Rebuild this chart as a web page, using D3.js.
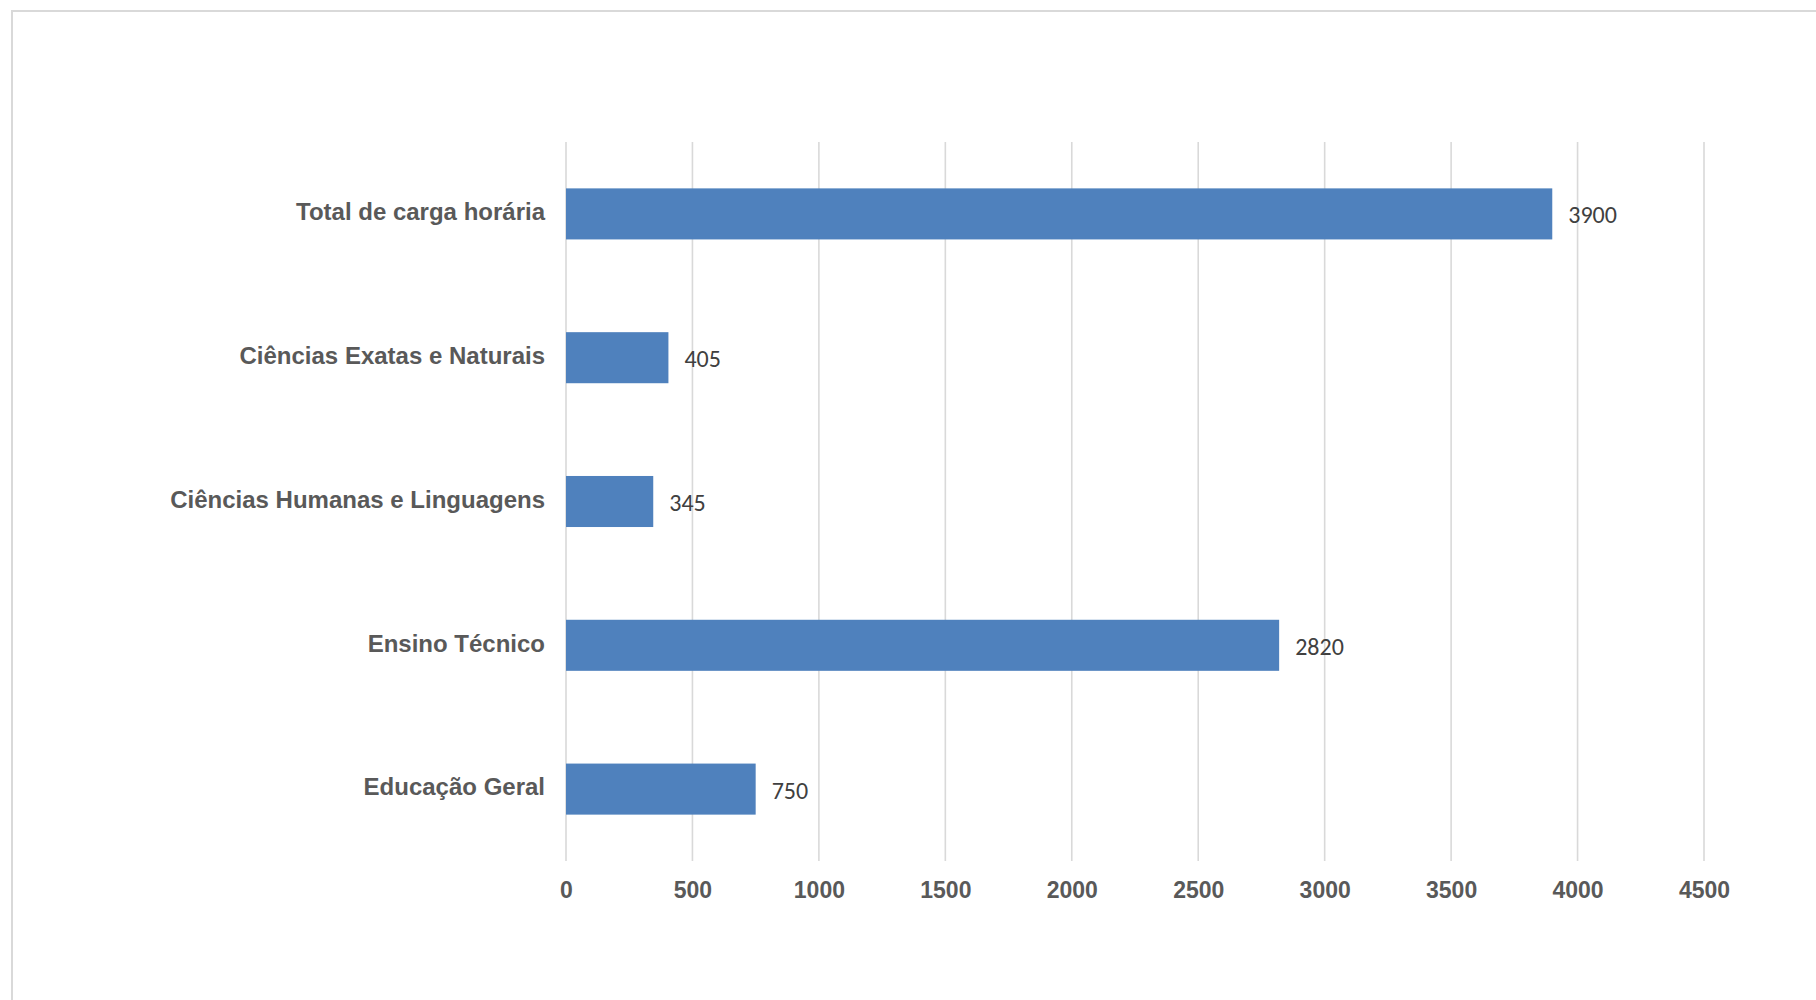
<!DOCTYPE html>
<html>
<head>
<meta charset="utf-8">
<script src="https://cdn.jsdelivr.net/npm/d3@7"></script>
<style>
  html, body { margin: 0; padding: 0; background: #ffffff; }
  svg { display: block; }
</style>
</head>
<body>
<div id="chart"></div>
<script>
// Carga horária por componente curricular
const categories = [
  "Total de carga horária",
  "Ciências Exatas e Naturais",
  "Ciências Humanas e Linguagens",
  "Ensino Técnico",
  "Educação Geral"
];
const hours = [3900, 405, 345, 2820, 750];
const tickValues = [0, 500, 1000, 1500, 2000, 2500, 3000, 3500, 4000, 4500];

const W = 1816, H = 1000;
const plot = { left: 566, right: 1704, top: 142, bottom: 861 };

const svg = d3.select("#chart").append("svg")
  .attr("width", W).attr("height", H);

svg.append("rect").attr("width", W).attr("height", H).attr("fill", "#ffffff");

// chart frame (runs off the right and bottom edges)
svg.append("rect")
  .attr("x", 12).attr("y", 11)
  .attr("width", W).attr("height", H)
  .attr("fill", "none").attr("stroke", "#d9d9d9").attr("stroke-width", 2);

const x = d3.scaleLinear().domain([0, 4500]).range([plot.left, plot.right]);
const y = d3.scaleBand().domain(categories).range([plot.top, plot.bottom]).paddingInner(0.645).paddingOuter(0.3225);

// vertical gridlines
svg.append("g").selectAll("line").data(tickValues).join("line")
  .attr("x1", d => x(d)).attr("x2", d => x(d))
  .attr("y1", plot.top).attr("y2", plot.bottom)
  .attr("stroke", "#d9d9d9").attr("stroke-width", 1.6);

// x axis labels
const xAxis = d3.axisBottom(x).tickValues(tickValues).tickSize(0).tickPadding(0).tickFormat(d3.format("d"));
const gx = svg.append("g").attr("transform", `translate(0,${plot.bottom})`).call(xAxis);
gx.select(".domain").remove();
gx.selectAll("text")
  .attr("y", 37).attr("dy", null)
  .attr("font-family", "'Liberation Sans', Arial, sans-serif")
  .attr("font-weight", "bold").attr("font-size", 23).attr("fill", "#595959");

// category labels
const yAxis = d3.axisLeft(y).tickSize(0).tickPadding(21);
const gy = svg.append("g").attr("transform", `translate(${plot.left},0)`).call(yAxis);
gy.select(".domain").remove();
gy.selectAll("text")
  .attr("dy", "0.26em")
  .attr("font-family", "'Liberation Sans', Arial, sans-serif")
  .attr("font-weight", "bold").attr("font-size", 24).attr("fill", "#595959");

const rows = categories.map((c, i) => ({ c, v: hours[i] }));

// bars
svg.append("g").selectAll("rect").data(rows).join("rect")
  .attr("x", x(0))
  .attr("y", d => y(d.c))
  .attr("width", d => x(d.v) - x(0))
  .attr("height", y.bandwidth())
  .attr("fill", "#4f81bd");

// value labels
svg.append("g").selectAll("text").data(rows).join("text")
  .attr("x", d => x(d.v) + 16)
  .attr("y", d => y(d.c) + y.bandwidth() / 2 + 1)
  .attr("dominant-baseline", "central")
  .attr("font-family", "Carlito, Calibri, Lato, sans-serif")
  .attr("font-size", 24).attr("fill", "#404040")
  .text(d => d.v);
</script>
</body>
</html>
